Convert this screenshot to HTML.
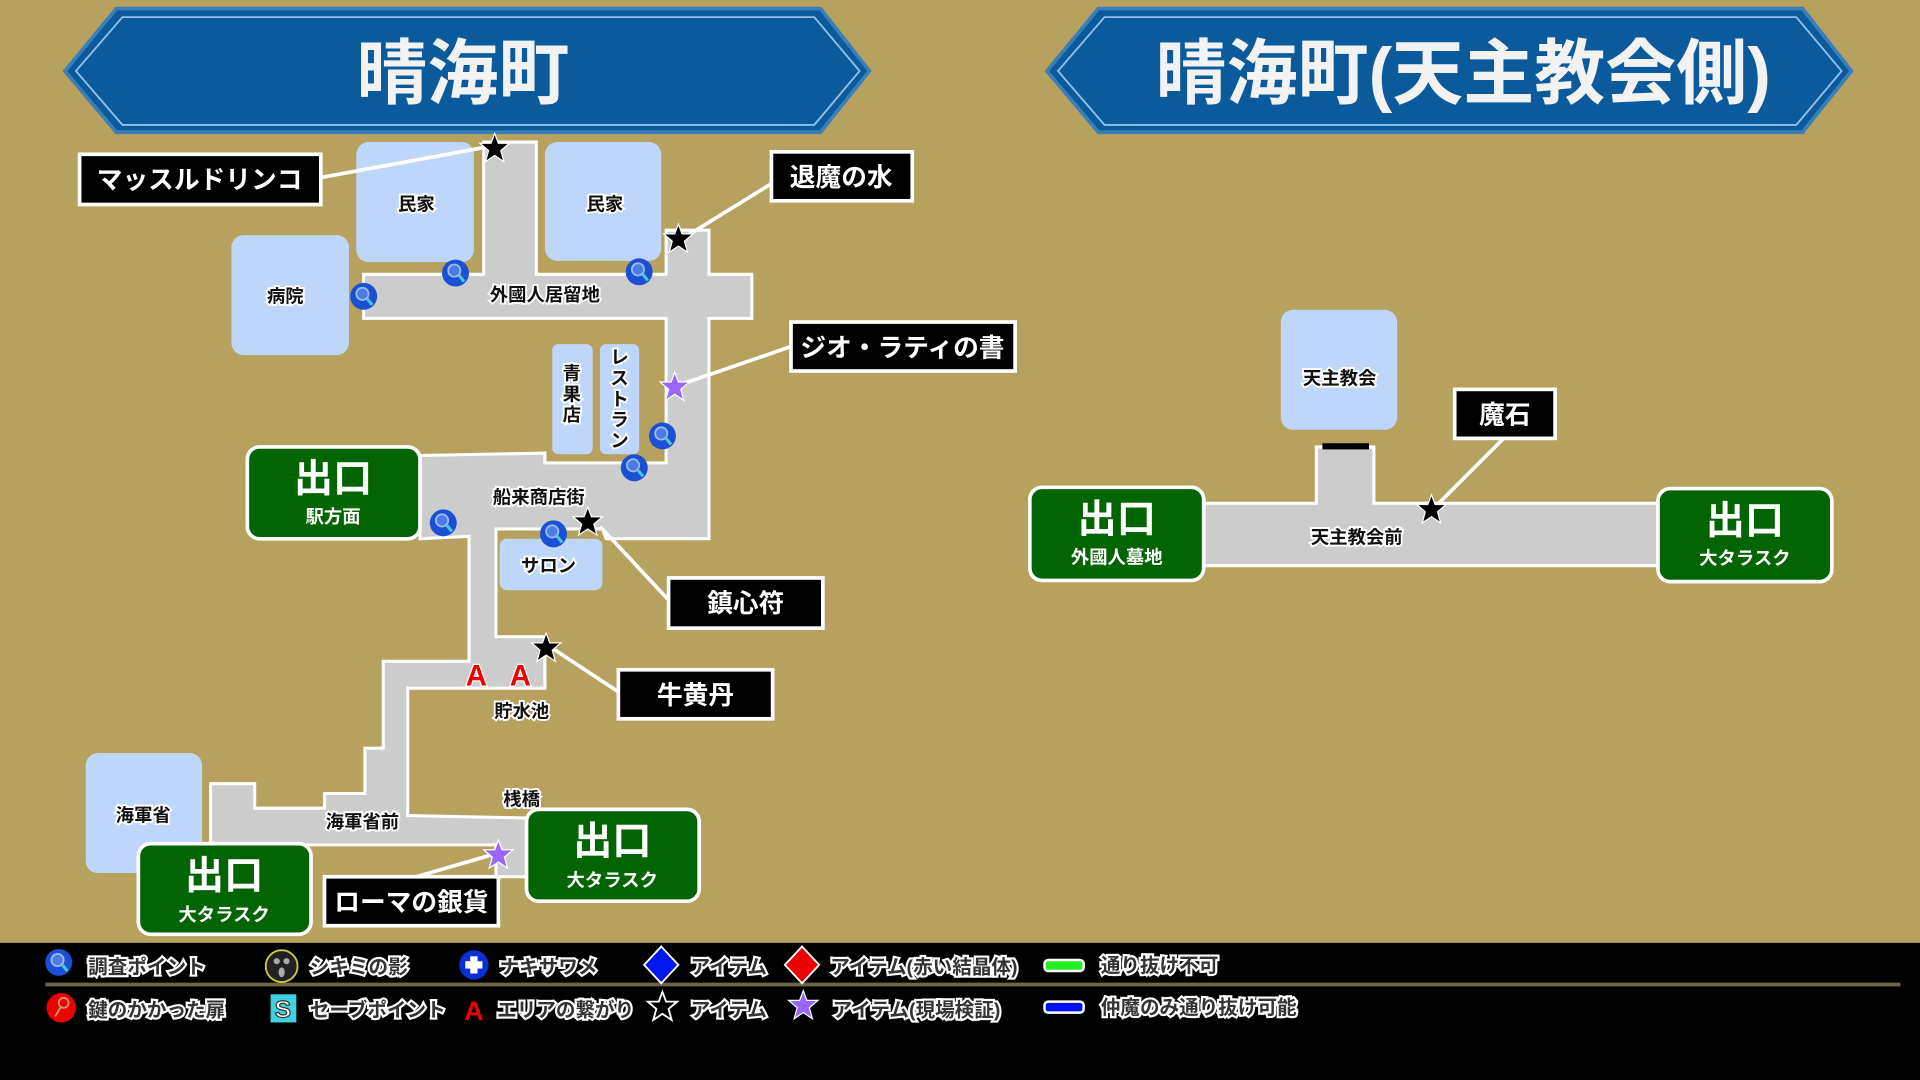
<!DOCTYPE html>
<html><head><meta charset="utf-8"><style>
html,body{margin:0;padding:0;background:#b6a15f;}
svg{display:block}
text{font-family:"Liberation Sans","Noto Sans CJK JP",sans-serif;font-weight:bold;}
.lbl{fill:#111;stroke:#fff;stroke-width:3;paint-order:stroke;font-size:15px;text-anchor:middle}
.box{fill:#000;stroke:#fff;stroke-width:3}
.bt{fill:#fff;font-size:21px;text-anchor:middle}
.ex{fill:#036403;stroke:#fff;stroke-width:3}
.road{fill:#cccccc;stroke:#fff;stroke-width:2.5;stroke-linejoin:miter}
.bld{fill:#bfd6fb}
.ln{stroke:#fff;stroke-width:3}
.lg{fill:#333;stroke:#fff;stroke-width:3.5;paint-order:stroke;font-size:16px}
</style></head><body>
<svg width="1920" height="1080" viewBox="0 0 1568 882" xmlns="http://www.w3.org/2000/svg">
<defs>
<g id="mag"><circle r="11" fill="#1a4fd6"/><circle cx="-1" cy="-2" r="5" fill="#4a7be8" stroke="#9bd" stroke-width="1.5"/><line x1="3" y1="2" x2="7" y2="7" stroke="#4cc" stroke-width="2.5"/></g>
<path id="star" d="M0,-12 L3,-4 12,-4 5,2 7.5,11 0,6 -7.5,11 -5,2 -12,-4 -3,-4Z"/>
</defs>
<rect width="1568" height="882" fill="#b6a15f"/>
<!-- banners -->
<polygon points="53,58 95,7 670,7 710,58 670,108 95,108" fill="#0a5a9c" stroke="#3a7fb8" stroke-width="3"/>
<polygon points="62,58 100,14 665,14 702,58 665,102 100,102" fill="none" stroke="#8ec0ea" stroke-width="1.5"/>
<text x="378" y="80" fill="#f2f2f2" font-size="58" text-anchor="middle">晴海町</text>
<polygon points="855,58 897,7 1472,7 1512,58 1472,108 897,108" fill="#0a5a9c" stroke="#3a7fb8" stroke-width="3"/>
<polygon points="864,58 902,14 1467,14 1504,58 1467,102 902,102" fill="none" stroke="#8ec0ea" stroke-width="1.5"/>
<text x="1195" y="80" fill="#f2f2f2" font-size="58" text-anchor="middle">晴海町(天主教会側)</text>

<!-- buildings -->
<rect class="bld" x="291" y="116" width="96" height="98" rx="10"/>
<rect class="bld" x="445" y="116" width="95" height="97" rx="10"/>
<rect class="bld" x="189" y="192" width="96" height="98" rx="10"/>
<rect class="bld" x="451" y="281" width="33" height="90" rx="5"/>
<rect class="bld" x="490" y="281" width="32" height="90" rx="5"/>
<rect class="bld" x="408" y="440" width="84" height="42" rx="6"/>
<rect class="bld" x="70" y="615" width="95" height="98" rx="10"/>
<rect class="bld" x="1046" y="253" width="95" height="98" rx="10"/>

<!-- roads left -->
<polygon class="road" points="395,116 438,116 438,224 544,224 544,188 579,188 579,224 614,224 614,260 579,260 579,440 495,440 492,432 405,432 405,520 445,520 445,562 333,562 333,666 430,668 430,716 405,716 405,690 208,690 208,690 172,690 172,640 208,640 208,660 265,660 265,648 298,648 298,611 313,611 313,540 383,540 383,438 343,440 343,372 445,370 445,378 544,378 544,260 297,260 297,224 395,224"/>
<!-- roads right -->
<polygon class="road" points="1075,365 1122,365 1122,411 1354,411 1354,462 983,462 983,411 1075,411"/>
<rect x="1080" y="362" width="38" height="5" fill="#000"/>

<!-- exits -->
<g>
<rect class="ex" x="202" y="365" width="141" height="75" rx="10"/>
<text x="272" y="402" fill="#fff" font-size="32" text-anchor="middle">出口</text>
<text x="272" y="427" fill="#fff" font-size="15" text-anchor="middle">駅方面</text>
<rect class="ex" x="113" y="689" width="141" height="74" rx="10"/>
<text x="183" y="726" fill="#fff" font-size="32" text-anchor="middle">出口</text>
<text x="183" y="752" fill="#fff" font-size="15" text-anchor="middle">大タラスク</text>
<rect class="ex" x="430" y="661" width="141" height="75" rx="10"/>
<text x="500" y="698" fill="#fff" font-size="32" text-anchor="middle">出口</text>
<text x="500" y="724" fill="#fff" font-size="15" text-anchor="middle">大タラスク</text>
<rect class="ex" x="841" y="398" width="142" height="76" rx="10"/>
<text x="912" y="435" fill="#fff" font-size="32" text-anchor="middle">出口</text>
<text x="912" y="460" fill="#fff" font-size="15" text-anchor="middle">外國人墓地</text>
<rect class="ex" x="1354" y="399" width="142" height="76" rx="10"/>
<text x="1425" y="436" fill="#fff" font-size="32" text-anchor="middle">出口</text>
<text x="1425" y="461" fill="#fff" font-size="15" text-anchor="middle">大タラスク</text>
</g>

<!-- leader lines -->
<line class="ln" x1="262" y1="145" x2="398" y2="120"/>
<line class="ln" x1="630" y1="150" x2="562" y2="192"/>
<line class="ln" x1="646" y1="283" x2="556" y2="314"/>
<line class="ln" x1="546" y1="490" x2="490" y2="430"/>
<line class="ln" x1="505" y1="565" x2="452" y2="530"/>
<line class="ln" x1="340" y1="716" x2="402" y2="698"/>
<line class="ln" x1="1228" y1="358" x2="1172" y2="414"/>

<!-- label boxes -->
<rect class="box" x="65" y="126" width="197" height="41"/><text class="bt" x="163" y="154">マッスルドリンコ</text>
<rect class="box" x="630" y="124" width="115" height="40"/><text class="bt" x="687" y="152">退魔の水</text>
<rect class="box" x="646" y="263" width="183" height="40"/><text class="bt" x="737" y="291">ジオ・ラティの書</text>
<rect class="box" x="546" y="472" width="126" height="41"/><text class="bt" x="609" y="500">鎮心符</text>
<rect class="box" x="505" y="547" width="126" height="40"/><text class="bt" x="568" y="575">牛黄丹</text>
<rect class="box" x="265" y="716" width="142" height="40"/><text class="bt" x="336" y="744">ローマの銀貨</text>
<rect class="box" x="1188" y="318" width="82" height="40"/><text class="bt" x="1229" y="346">魔石</text>

<!-- stars -->
<g fill="#000" stroke="#fff" stroke-width="1">
<use href="#star" x="404" y="121"/><use href="#star" x="554" y="195"/><use href="#star" x="480" y="426"/><use href="#star" x="446" y="529"/><use href="#star" x="1169" y="416"/>
</g>
<g fill="#9966ff" stroke="#fff" stroke-width="1">
<use href="#star" x="551" y="316"/><use href="#star" x="407" y="698"/>
</g>
<!-- magnifiers -->
<use href="#mag" x="297" y="242"/><use href="#mag" x="372" y="223"/><use href="#mag" x="522" y="222"/><use href="#mag" x="541" y="356"/><use href="#mag" x="518" y="382"/><use href="#mag" x="362" y="427"/><use href="#mag" x="452" y="436"/>
<!-- A marks -->
<text x="389" y="560" fill="#e00" stroke="#fff" stroke-width="2" paint-order="stroke" font-size="24" text-anchor="middle">A</text>
<text x="425" y="560" fill="#e00" stroke="#fff" stroke-width="2" paint-order="stroke" font-size="24" text-anchor="middle">A</text>

<!-- map labels -->
<text class="lbl" x="340" y="172">民家</text>
<text class="lbl" x="494" y="172">民家</text>
<text class="lbl" x="233" y="247">病院</text>
<text class="lbl" x="445" y="246">外國人居留地</text>
<text class="lbl" x="467" y="310">青</text><text class="lbl" x="467" y="327">果</text><text class="lbl" x="467" y="344">店</text>
<text class="lbl" x="506" y="297">レ</text><text class="lbl" x="506" y="314">ス</text><text class="lbl" x="506" y="331">ト</text><text class="lbl" x="506" y="348">ラ</text><text class="lbl" x="506" y="365">ン</text>
<text class="lbl" x="440" y="411">船来商店街</text>
<text class="lbl" x="448" y="467">サロン</text>
<text class="lbl" x="426" y="586">貯水池</text>
<text class="lbl" x="426" y="658">桟橋</text>
<text class="lbl" x="296" y="676">海軍省前</text>
<text class="lbl" x="117" y="671">海軍省</text>
<text class="lbl" x="1094" y="314">天主教会</text>
<text class="lbl" x="1108" y="444">天主教会前</text>

<!-- legend -->
<rect x="0" y="770" width="1568" height="112" fill="#000"/>
<line x1="37" y1="804" x2="1552" y2="804" stroke="#6e6446" stroke-width="3"/>
<g transform="translate(48,786)"><use href="#mag"/></g>
<text class="lg" x="72" y="795">調査ポイント</text>
<circle cx="230" cy="789" r="13" fill="#222" stroke="#cc4" stroke-width="1.5"/><circle cx="226" cy="785" r="2.5" fill="#aaa"/><circle cx="234" cy="785" r="2.5" fill="#aaa"/><ellipse cx="230" cy="794" rx="2.5" ry="4" fill="#aaa"/>
<text class="lg" x="253" y="795">シキミの影</text>
<circle cx="387" cy="788" r="12" fill="#0b2fd6"/><rect x="380" y="785" width="14" height="6" fill="#fff"/><rect x="384" y="781" width="6" height="14" fill="#fff"/>
<text class="lg" x="408" y="795">ナキサワメ</text>
<polygon points="540,773 554,788 540,803 526,788" fill="#0016ee" stroke="#fff" stroke-width="1.5"/>
<text class="lg" x="564" y="795">アイテム</text>
<polygon points="655,773 669,788 655,803 641,788" fill="#e00" stroke="#fff" stroke-width="1.5"/>
<text class="lg" x="678" y="795">アイテム(赤い結晶体)</text>
<rect x="853" y="784" width="32" height="9" rx="3" fill="#22ee22" stroke="#fff" stroke-width="2"/>
<text class="lg" x="899" y="794">通り抜け不可</text>

<circle cx="50" cy="823" r="12" fill="#e00"/><circle cx="52" cy="819" r="4" fill="none" stroke="#c96" stroke-width="1.5"/><line x1="50" y1="822" x2="45" y2="830" stroke="#c96" stroke-width="1.5"/>
<text class="lg" x="72" y="830">鍵のかかった扉</text>
<rect x="221" y="812" width="21" height="23" fill="#3cd4e4"/><text x="231" y="831" fill="#fff" stroke="#333" stroke-width="1" font-size="20" text-anchor="middle">S</text>
<text class="lg" x="253" y="830">セーブポイント</text>
<text x="387" y="833" fill="#e00" font-size="22" text-anchor="middle">A</text>
<text class="lg" x="406" y="830">エリアの繋がり</text>
<use href="#star" x="541" y="822" fill="#000" stroke="#fff" stroke-width="1.5"/>
<text class="lg" x="564" y="830">アイテム</text>
<use href="#star" x="656" y="821" fill="#9966ff" stroke="#fff" stroke-width="1"/>
<text class="lg" x="680" y="830">アイテム(現場検証)</text>
<rect x="853" y="818" width="32" height="9" rx="3" fill="#0010ee" stroke="#fff" stroke-width="2"/>
<text class="lg" x="899" y="828">仲魔のみ通り抜け可能</text>
</svg>
</body></html>
